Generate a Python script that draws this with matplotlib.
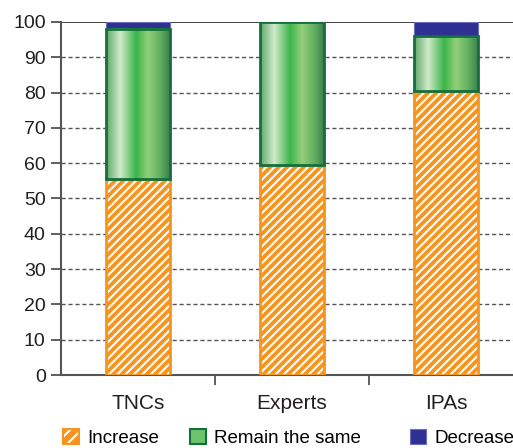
import numpy as np
import matplotlib
matplotlib.use("Agg")
import matplotlib.pyplot as plt
from matplotlib.patches import Patch
from matplotlib.legend_handler import HandlerTuple
from matplotlib.colors import LinearSegmentedColormap

categories = ["TNCs", "Experts", "IPAs"]
increase = [55.5, 59.5, 80.5]
remain = [42.5, 40.5, 15.5]
decrease = [2.0, 0.0, 4.0]
yticks = [0, 10, 20, 30, 40, 50, 60, 70, 80, 90, 100]
labels = ["Increase", "Remain the same", "Decrease"]

plt.rcParams['font.family'] = ['Liberation Sans', 'DejaVu Sans']
plt.rcParams['hatch.linewidth'] = 1.5

orange = "#f7941d"
dgreen = "#13703c"
blue = "#2e3192"

fig = plt.figure(figsize=(5.13, 4.48), dpi=100)
ax = fig.add_axes([61 / 513, 73 / 448, 1 - 61 / 513, 353 / 448])

x = np.arange(len(categories))
w = 0.41

# orange with thin white diagonal stripes, then an orange outline on top
ax.bar(x, increase, w, color=orange, edgecolor="white", hatch="////",
       linewidth=0, zorder=3)
ax.bar(x, increase, w, fill=False, edgecolor=orange, linewidth=2, zorder=3.2)
bottoms2 = np.array(increase)
rem_bars = ax.bar(x, remain, w, bottom=bottoms2, color="#3bb54a",
                  edgecolor=dgreen, linewidth=2, zorder=4)
bottoms3 = bottoms2 + np.array(remain)
ax.bar(x, decrease, w, bottom=bottoms3, color=blue,
       edgecolor="#6a6cc0", linewidth=0.8, zorder=3)

# striped green gradient inside the middle bars
grad = LinearSegmentedColormap.from_list("g", [
    (0.0, "#5fa86a"), (0.22, "#d2eacb"), (0.47, "#3bb54a"),
    (0.66, "#93cf79"), (0.86, "#5fae5f"), (1.0, "#3f7f4f")])
img = np.linspace(0, 1, 200).reshape(1, -1)
for b in rem_bars:
    x0, y0 = b.get_x(), b.get_y()
    ax.imshow(img, cmap=grad, aspect="auto", zorder=3.5,
              extent=(x0, x0 + b.get_width(), y0, y0 + b.get_height()))
    b.set_facecolor("none")

ax.set_xlim(-0.5, 2.435)
ax.set_ylim(0, 100)
ax.set_yticks(yticks)
ax.set_yticklabels([str(t) for t in yticks], fontsize=14, color="#231f20")
ax.set_xticks([0.5, 1.5])
ax.set_xticklabels([])
ax.tick_params(axis="x", length=7, width=1.2, color="#444444", direction="out")
ax.tick_params(axis="y", length=7, width=1.2, color="#444444", pad=4)
for i, c in enumerate(categories):
    ax.text(i, -5.5, c, ha="center", va="top", fontsize=15, color="#231f20")

for t in yticks[1:-1]:
    ax.axhline(t, color="#555555", linestyle=(0, (3, 2)), linewidth=1, zorder=1)
ax.axhline(100, color="#222222", linewidth=1.2, zorder=1)

for s in ["top", "right"]:
    ax.spines[s].set_visible(False)
ax.spines["left"].set_color("#555555")
ax.spines["left"].set_linewidth(1.5)
ax.spines["bottom"].set_color("#555555")
ax.spines["bottom"].set_linewidth(1.5)

handles = [
    (Patch(facecolor=orange, edgecolor="white", hatch="///", linewidth=0),
     Patch(fill=False, edgecolor=orange, linewidth=1.5)),
    (Patch(facecolor="#6cc36a", edgecolor=dgreen, linewidth=1.5),),
    (Patch(facecolor=blue, edgecolor="#6a6cc0", linewidth=0.8),),
]
# legend entries are spaced unevenly in the reference, so one legend each
xs = [63, 190, 410]
for h, lab, xp in zip(handles, labels, xs):
    fig.legend(handles=[h], labels=[lab], loc="center left",
               bbox_to_anchor=(xp / 513, 1 - 438 / 448), frameon=False,
               fontsize=13.5, handlelength=0.85, handleheight=0.85,
               handletextpad=0.45, borderaxespad=0, borderpad=0,
               handler_map={tuple: HandlerTuple(ndivide=1, pad=0)})

fig.savefig("out.png", dpi=100)
